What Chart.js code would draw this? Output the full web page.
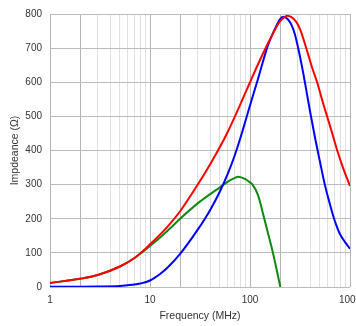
<!DOCTYPE html>
<html>
<head>
<meta charset="utf-8">
<script src="https://cdn.jsdelivr.net/npm/chart.js@4/dist/chart.umd.min.js"></script>
<style>
  html, body { margin: 0; padding: 0; background: #fff; }
  #wrap { width: 356px; height: 326px; }
</style>
</head>
<body>
<div id="wrap"><canvas id="chart"></canvas></div>
<script>
// --- data (frequency in MHz, impedance in ohm) ---
const redFreqs = [1, 2, 3, 5, 7, 10, 15, 20, 30, 40, 50, 60, 70, 80, 100, 120, 150, 180, 200, 220, 235, 260, 290, 320, 365, 420, 470, 530, 590, 660, 740, 850, 1000];
const impedanceZ = [12, 24, 35, 60, 85, 125, 177, 222, 300, 360, 410, 455, 497, 535, 600, 652, 712, 757, 779, 790, 795, 791, 777, 752, 700, 641, 599, 545, 500, 453, 403, 350, 296];

const blueFreqs = [1, 2, 3, 5, 7, 8, 10, 12.6, 15, 20, 30, 40, 50, 60, 70, 80, 100, 120, 150, 180, 200, 214, 240, 260, 280, 300, 330, 350, 400, 450, 500, 560, 620, 684, 750, 800, 900, 1000];
const resistanceR = [0.5, 1, 1.5, 3, 7, 10, 19, 38, 57, 97, 168, 226, 280, 332, 384, 436, 532, 609, 705, 760, 785, 792, 784, 768, 742, 706, 648, 608, 512, 433, 368, 300, 250, 205, 172, 153, 130, 112];

const greenFreqs = [1, 2, 3, 5, 7, 10, 15, 20, 30, 40, 50, 60, 70, 76, 90, 100, 106, 120, 139, 150, 169, 185, 201];
const reactanceX = [12, 24, 35, 60, 85, 120, 165, 200, 245, 272, 292, 309, 319, 323, 316, 306, 300, 270, 200, 162, 102, 50, 0];

const xTicks = [1, 2, 3, 4, 5, 6, 7, 8, 9, 10, 20, 30, 40, 50, 60, 70, 80, 90, 100, 200, 300, 400, 500, 600, 700, 800, 900, 1000];
const xLabelled = [1, 10, 100, 1000];
const xDarkLines = [1, 2, 10, 20, 100, 200, 1000];

const toPoints = (xs, ys) => xs.map((x, i) => ({ x, y: ys[i] }));

const font = { family: 'Liberation Sans, Arial, sans-serif', size: 10 };

const line = (data, color) => ({
    data,
    borderColor: color,
    borderWidth: 2,
    pointRadius: 0,
    fill: false,
    cubicInterpolationMode: 'monotone'
});

new Chart(document.getElementById('chart'), {
    type: 'line',
    data: {
        datasets: [
            line(toPoints(redFreqs, impedanceZ), '#ff0000'),
            line(toPoints(blueFreqs, resistanceR), '#0000ff'),
            line(toPoints(greenFreqs, reactanceX), '#118811')
        ]
    },
    options: {
        responsive: true,
        maintainAspectRatio: false,
        animation: false,
        layout: { padding: { left: 0, right: 6, top: 12, bottom: 0 } },
        plugins: { legend: { display: false }, tooltip: { enabled: false } },
        scales: {
            x: {
                type: 'logarithmic',
                min: 1,
                max: 1000,
                afterBuildTicks: s => { s.ticks = xTicks.map(v => ({ value: v })); },
                afterFit: s => { s.height = 39; s.paddingLeft = 0; s.paddingRight = 0; },
                border: { display: false },
                grid: {
                    drawTicks: false,
                    color: c => xDarkLines.includes(c.tick && c.tick.value) ? '#b4b4b4' : '#e0e0e0'
                },
                ticks: {
                    autoSkip: false,
                    maxRotation: 0,
                    padding: 7,
                    color: '#333',
                    font,
                    callback: v => xLabelled.includes(v) ? String(v) : ''
                },
                title: {
                    display: true,
                    text: 'Frequency (MHz)',
                    color: '#333',
                    font: { family: font.family, size: 10.5 },
                    padding: { top: 0, bottom: 4 }
                }
            },
            y: {
                min: 0,
                max: 800,
                afterFit: s => { s.width = 50; },
                border: { display: false },
                grid: { drawTicks: false, color: '#bcbcbc' },
                ticks: { stepSize: 100, padding: 8, color: '#333', font },
                title: {
                    display: true,
                    text: 'Impdeance (Ω)',
                    color: '#333',
                    font: { family: font.family, size: 10.5 },
                    padding: { top: 9, bottom: 0 }
                }
            }
        }
    }
});
</script>
</body>
</html>
